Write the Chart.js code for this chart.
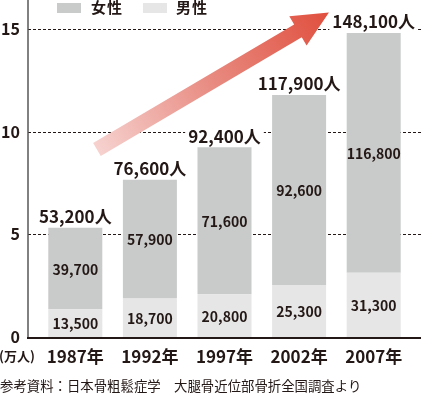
<!DOCTYPE html>
<html lang="ja">
<head>
<meta charset="UTF-8">
<title>大腿骨近位部骨折 発生数</title>
<script src="https://cdn.jsdelivr.net/npm/chart.js@4.4.1/dist/chart.umd.min.js"></script>
<style>
  html, body { margin: 0; padding: 0; background: #fff; }
  body { width: 421px; height: 395px; position: relative; overflow: hidden;
         font-family: "Noto Sans CJK JP", sans-serif; color: #231815; }
  #chart { position: absolute; left: 0; top: 0; }
  .box { position: absolute; top: 3px; width: 24px; height: 10px; }
  .lbl { position: absolute; top: -3px; font-size: 15px; font-weight: bold; line-height: 20px; letter-spacing: 1px; }
  #unit { position: absolute; left: -1px; top: 347px; font-size: 13px; font-weight: bold; line-height: 18px; }
  #note { position: absolute; left: 0; top: 376px; font-size: 13.4px; line-height: 18px; white-space: nowrap; }
</style>
</head>
<body>
<canvas id="chart" width="421" height="395"></canvas>
<div class="box" style="left:57px;background:#c9caca"></div>
<div class="lbl" style="left:91px">女性</div>
<div class="box" style="left:143px;background:#e6e6e6"></div>
<div class="lbl" style="left:176px">男性</div>
<div id="unit">(万人)</div>
<div id="note">参考資料：日本骨粗鬆症学　大腿骨近位部骨折全国調査より</div>

<script>
  const years = ['1987年', '1992年', '1997年', '2002年', '2007年'];
  const female = [39700, 57900, 71600, 92600, 116800];
  const male = [13500, 18700, 20800, 25300, 31300];
  const totals = [53200, 76600, 92400, 117900, 148100];
  const yTicks = [0, 50000, 100000, 150000];

  const ink = '#231815';
  const font = '"Noto Sans CJK JP", sans-serif';
  const fmt = v => v.toLocaleString('en-US');

  // 点線の目盛線と軸線
  const axisLines = {
    id: 'axisLines',
    beforeDatasetsDraw(chart) {
      const { ctx, chartArea: a, scales: { y } } = chart;
      const x0 = a.left - 10;
      ctx.save();
      ctx.strokeStyle = ink;
      ctx.lineWidth = 1;
      ctx.setLineDash([3, 2]);
      yTicks.slice(1).forEach(v => {
        const py = Math.round(y.getPixelForValue(v)) + 0.5;
        ctx.beginPath();
        ctx.moveTo(x0, py);
        ctx.lineTo(chart.width, py);
        ctx.stroke();
      });
      ctx.setLineDash([]);
      ctx.strokeStyle = '#595757';
      ctx.lineWidth = 1.5;
      ctx.beginPath();
      ctx.moveTo(x0, 0);
      ctx.lineTo(x0, a.bottom);
      ctx.stroke();
      ctx.restore();
    },
    afterDatasetsDraw(chart) {
      const { ctx, chartArea: a } = chart;
      ctx.save();
      ctx.strokeStyle = ink;
      ctx.lineWidth = 2;
      ctx.beginPath();
      ctx.moveTo(a.left - 11, a.bottom + 1);
      ctx.lineTo(chart.width, a.bottom + 1);
      ctx.stroke();
      ctx.restore();
    }
  };

  // 棒の中の数値と合計
  const barLabels = {
    id: 'barLabels',
    afterDatasetsDraw(chart) {
      const ctx = chart.ctx;
      ctx.save();
      ctx.textAlign = 'center';
      ctx.textBaseline = 'middle';
      ctx.fillStyle = ink;
      ctx.font = 'bold 14px ' + font;
      chart.data.datasets.forEach((ds, i) => {
        chart.getDatasetMeta(i).data.forEach((bar, j) => {
          ctx.fillText(fmt(ds.data[j]), bar.x, (bar.y + bar.base) / 2 + 1);
        });
      });
      ctx.font = 'bold 17px ' + font;
      chart.getDatasetMeta(1).data.forEach((bar, j) => {
        const txt = fmt(totals[j]) + '人';
        const w = ctx.measureText(txt).width;
        const ty = bar.y - 11;
        ctx.fillStyle = '#fff';
        ctx.fillRect(bar.x - w / 2 - 3, ty - 10, w + 6, 20);
        ctx.fillStyle = ink;
        ctx.fillText(txt, bar.x, ty);
      });
      ctx.restore();
    }
  };

  // 増加を示す矢印
  const trendArrow = {
    id: 'trendArrow',
    afterDraw(chart) {
      const { ctx, scales: { x, y } } = chart;
      const x1 = x.getPixelForValue(0.29), y1 = y.getPixelForValue(91300);
      const x2 = x.getPixelForValue(3.4), y2 = y.getPixelForValue(158000);
      const ang = Math.atan2(y2 - y1, x2 - x1);
      const len = Math.hypot(x2 - x1, y2 - y1);
      const shaft = 7.5, head = 17, headLen = 36;
      ctx.save();
      ctx.translate(x1, y1);
      ctx.rotate(ang);
      const g = ctx.createLinearGradient(0, 0, len, 0);
      g.addColorStop(0, '#f6d2cf');
      g.addColorStop(0.5, '#e88a80');
      g.addColorStop(1, '#e04f3e');
      ctx.fillStyle = g;
      ctx.beginPath();
      ctx.moveTo(0, -shaft);
      ctx.lineTo(len - headLen, -shaft);
      ctx.lineTo(len - headLen, -head);
      ctx.lineTo(len, 0);
      ctx.lineTo(len - headLen, head);
      ctx.lineTo(len - headLen, shaft);
      ctx.lineTo(0, shaft);
      ctx.closePath();
      ctx.fill();
      ctx.restore();
    }
  };

  new Chart(document.getElementById('chart'), {
    type: 'bar',
    data: {
      labels: years,
      datasets: [
        { label: '男性', data: male, backgroundColor: '#e6e6e6' },
        { label: '女性', data: female, backgroundColor: '#c9caca' }
      ]
    },
    options: {
      responsive: false,
      animation: false,
      layout: { autoPadding: false, padding: { left: 0, right: 10, top: 0, bottom: 25 } },
      datasets: { bar: { categoryPercentage: 1, barPercentage: 0.724 } },
      plugins: { legend: { display: false }, tooltip: { enabled: false } },
      scales: {
        x: {
          stacked: true,
          grid: { display: false, drawTicks: false },
          border: { display: false },
          ticks: { color: ink, padding: 9, font: { family: font, size: 17, weight: 'bold' } },
          afterFit(s) { s.height = 33; }
        },
        y: {
          stacked: true,
          min: 0,
          max: 150700,
          grid: { display: false, drawTicks: false },
          border: { display: false },
          afterBuildTicks(s) { s.ticks = yTicks.map(v => ({ value: v })); },
          ticks: {
            color: ink, padding: 18,
            font: { family: font, size: 16, weight: 'bold' },
            callback: v => v / 10000
          },
          afterFit(s) { s.width = 38; }
        }
      }
    },
    plugins: [axisLines, barLabels, trendArrow]
  });
</script>
</body>
</html>
